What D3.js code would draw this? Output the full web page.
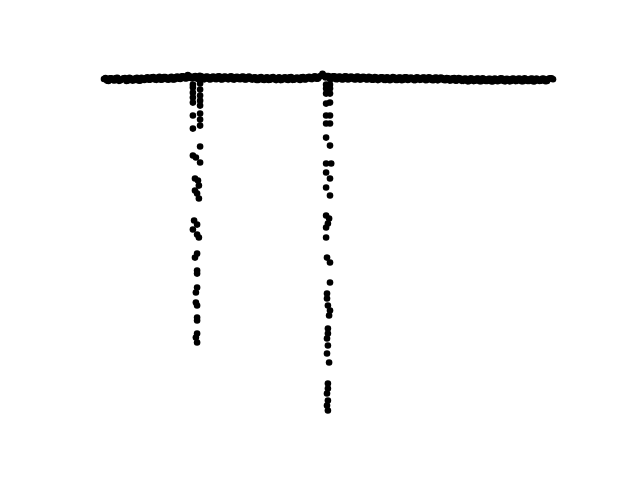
<!DOCTYPE html>
<html>
<head>
<meta charset="utf-8">
<script src="https://cdn.jsdelivr.net/npm/d3@7"></script>
<style>
  html, body { margin: 0; padding: 0; background: #ffffff; }
  svg { display: block; }
</style>
</head>
<body>
<div id="chart"></div>
<script>
// Out-of-transit baseline, set A: time (arbitrary units) and relative flux (ppt)
const baseTime = [
  0,1,2,3,4,5,6,7,8,9,10,11,12,13,14,15,16,17,18,19,
  20,21,22,23,24,25,26,27,28,29,30,31,32,33,34,35,36,37,38,39,
  40,41,42,43,44,45,46,47,48,49,50,51,52,53,54,55,56,57,58,59,
  60,61,62,63,64,65,66,67,68,69,70,71,72,73,74,75,76,77,78,79,
  80,81,82,83,84,85,86,87,88,89,90,91,92,93,94,95,96,97,98,99,
  100,101,102,103,104,105,106,107,108,109,110,111,112,113,114,115,116,117,118,119,
  120,121,122,123,124,125,126,127,128,129,130,131,132,133,134,135,136,137,138,139,
  140,141,142,143,144,145,146,147,148,149,150
];
const baseFlux = [
  0.8,-1.2,1.5,-0.6,1.9,-1.5,0.4,2.0,-1.0,1.2,
  -0.8,2.2,-1.3,0.9,1.8,-0.2,2.9,0.1,2.6,-0.1,
  3.0,0.4,2.4,0.2,3.1,1.0,3.9,1.6,5.6,2.0,
  3.8,1.2,4.6,0.8,3.5,0.6,3.2,0.9,3.6,0.3,
  3.3,1.0,3.4,0.5,3.0,0.7,3.5,0.2,3.1,0.8,
  2.4,-0.4,2.6,0.0,2.1,-0.5,2.5,0.3,1.9,-0.6,
  2.3,0.1,2.7,-0.3,2.0,0.4,2.8,0.2,2.9,0.9,
  3.4,1.0,3.8,7.0,2.5,4.2,0.9,3.9,0.6,3.3,
  0.4,3.6,0.8,3.0,0.2,3.4,0.5,3.1,0.1,2.9,
  -0.2,2.5,0.3,2.8,-0.4,2.2,0.0,2.6,-0.5,2.4,
  -0.1,2.7,0.3,2.0,-0.6,2.3,0.1,2.6,-0.3,2.1,
  -0.7,2.5,0.2,1.9,-0.8,1.7,-0.7,1.9,-0.9,1.3,
  -1.5,1.1,-1.8,0.9,-1.4,1.2,-2.0,0.7,-1.6,1.0,
  -1.9,0.8,-1.3,1.3,-2.1,0.6,-1.7,1.1,-1.5,0.9,
  -2.0,0.7,-1.6,1.2,-1.8,0.5,-1.4,1.0,-1.7,1.5,0.5
];

// Out-of-transit baseline, set B (interleaved exposures)
const baseTimeB = [
  0.5,1.5,2.5,3.5,4.5,5.5,6.5,7.5,8.5,9.5,
  10.5,11.5,12.5,13.5,14.5,15.5,16.5,17.5,18.5,19.5,
  20.5,21.5,22.5,23.5,24.5,25.5,26.5,27.5,28.5,29.5,
  30.5,31.5,32.5,33.5,34.5,35.5,36.5,37.5,38.5,39.5,
  40.5,41.5,42.5,43.5,44.5,45.5,46.5,47.5,48.5,49.5,
  50.5,51.5,52.5,53.5,54.5,55.5,56.5,57.5,58.5,59.5,
  60.5,61.5,62.5,63.5,64.5,65.5,66.5,67.5,68.5,69.5,
  70.5,71.5,72.5,73.5,74.5,75.5,76.5,77.5,78.5,79.5,
  80.5,81.5,82.5,83.5,84.5,85.5,86.5,87.5,88.5,89.5,
  90.5,91.5,92.5,93.5,94.5,95.5,96.5,97.5,98.5,99.5,
  100.5,101.5,102.5,103.5,104.5,105.5,106.5,107.5,108.5,109.5,
  110.5,111.5,112.5,113.5,114.5,115.5,116.5,117.5,118.5,119.5,
  120.5,121.5,122.5,123.5,124.5,125.5,126.5,127.5,128.5,129.5,
  130.5,131.5,132.5,133.5,134.5,135.5,136.5,137.5,138.5,139.5,
  140.5,141.5,142.5,143.5,144.5,145.5,146.5,147.5,148.5,149.5
];
const baseFluxB = [
  2.0,-1.6,1.7,-1.1,2.2,-0.9,1.5,-1.7,2.1,-1.2,
  1.6,-1.0,2.3,-0.4,2.8,0.0,3.2,-0.3,3.4,0.2,
  3.1,-0.2,3.3,0.1,3.6,0.7,4.1,1.3,4.4,1.5,
  4.3,0.9,4.0,0.3,3.8,0.1,3.6,0.4,3.9,0.2,
  3.7,0.3,3.9,0.0,3.5,0.4,3.8,0.1,3.6,0.0,
  2.8,-0.5,3.0,-0.4,2.7,-0.2,3.0,-0.6,2.9,-0.3,
  2.8,-0.5,3.0,-0.1,2.6,-0.4,3.2,0.3,3.5,0.6,
  3.9,1.2,4.5,5.0,4.3,0.7,4.0,0.5,3.8,0.2,
  3.9,0.1,3.6,0.4,3.7,0.0,3.5,0.3,3.3,-0.2,
  3.0,-0.6,2.9,-0.3,2.7,-0.7,3.0,-0.4,2.6,-0.8,
  2.8,-0.5,2.5,-0.6,2.9,-0.3,2.4,-0.8,2.7,-0.4,
  2.3,-0.9,2.6,-0.5,2.0,-1.2,1.6,-1.4,1.8,-1.5,
  1.4,-2.1,1.5,-1.8,1.2,-2.0,1.6,-1.7,1.1,-2.2,
  1.3,-1.9,1.5,-1.6,1.0,-2.1,1.4,-1.8,1.2,-2.0,
  1.5,-1.7,1.1,-2.2,1.3,-1.6,1.4,-1.9,1.0,1.6
];

// First transit event
const dip1Time = [
  29.7,29.7,29.7,29.7,29.7,29.7,29.7,
  32.1,32.1,32.1,32.1,32.1,32.1,32.1,32.1,32.1,
  29.7,30.7,32.1,30.4,31.4,31.7,30.4,31.1,31.7,
  30.1,31.1,29.7,31.1,31.7,31.1,30.4,31.1,31.1,
  31.1,30.7,30.7,31.1,31.1,31.1,31.1,30.7,31.1
];
const dip1Flux = [
  -6.1,-9.7,-15.8,-21.8,-27.9,-43.6,-59.4,
  -4.8,-12.1,-19.4,-25.5,-31.5,-41.2,-48.5,-55.8,-81.2,
  -92.1,-94.5,-100.6,-120.0,-122.4,-128.5,-134.5,-138.2,-144.2,
  -170.9,-175.8,-181.8,-187.9,-191.5,-210.9,-215.8,-231.5,-235.2,
  -252.1,-258.2,-270.3,-273.9,-288.5,-292.1,-307.9,-312.7,-318.8
];

// Second transit event
const dip2Time = [
  74.2,74.2,74.2,74.2,74.2,74.2,74.2,
  75.5,75.5,75.5,75.5,75.5,75.5,
  75.5,74.2,75.9,74.2,75.5,74.2,75.5,
  74.2,75.2,74.8,74.2,74.2,74.5,75.5,75.5,
  74.5,74.5,74.8,75.5,75.2,74.8,74.8,74.5,74.8,74.5,75.2,
  74.8,74.8,74.5,74.8,74.5,74.8
];
const dip2Flux = [
  -6.1,-10.9,-17.0,-29.1,-43.6,-53.3,-70.3,
  -6.1,-10.9,-17.0,-27.9,-43.6,-53.3,
  -80.0,-101.8,-101.8,-112.7,-120.0,-130.9,-140.6,
  -164.8,-168.5,-174.5,-179.4,-191.5,-215.8,-221.8,-246.1,
  -259.4,-265.5,-273.9,-280.0,-286.1,-301.8,-307.9,-313.9,-322.4,-332.1,-343.0,
  -368.5,-374.5,-380.6,-389.1,-395.2,-401.2
];

const width = 640, height = 480;
const svg = d3.select("#chart").append("svg")
  .attr("width", width).attr("height", height);

const x = d3.scaleLinear().domain([0, 150]).range([104, 553]);
const y = d3.scaleLinear().domain([-400, 0]).range([409.5, 79.6]);

const points = [];
baseTime.forEach((t, i) => points.push({ t, f: baseFlux[i] }));
baseTimeB.forEach((t, i) => points.push({ t, f: baseFluxB[i] }));
dip1Time.forEach((t, i) => points.push({ t, f: dip1Flux[i] }));
dip2Time.forEach((t, i) => points.push({ t, f: dip2Flux[i] }));

svg.append("g").selectAll("circle")
  .data(points)
  .join("circle")
  .attr("cx", d => x(d.t))
  .attr("cy", d => y(d.f))
  .attr("r", 3.3)
  .attr("fill", "#000000");
</script>
</body>
</html>
